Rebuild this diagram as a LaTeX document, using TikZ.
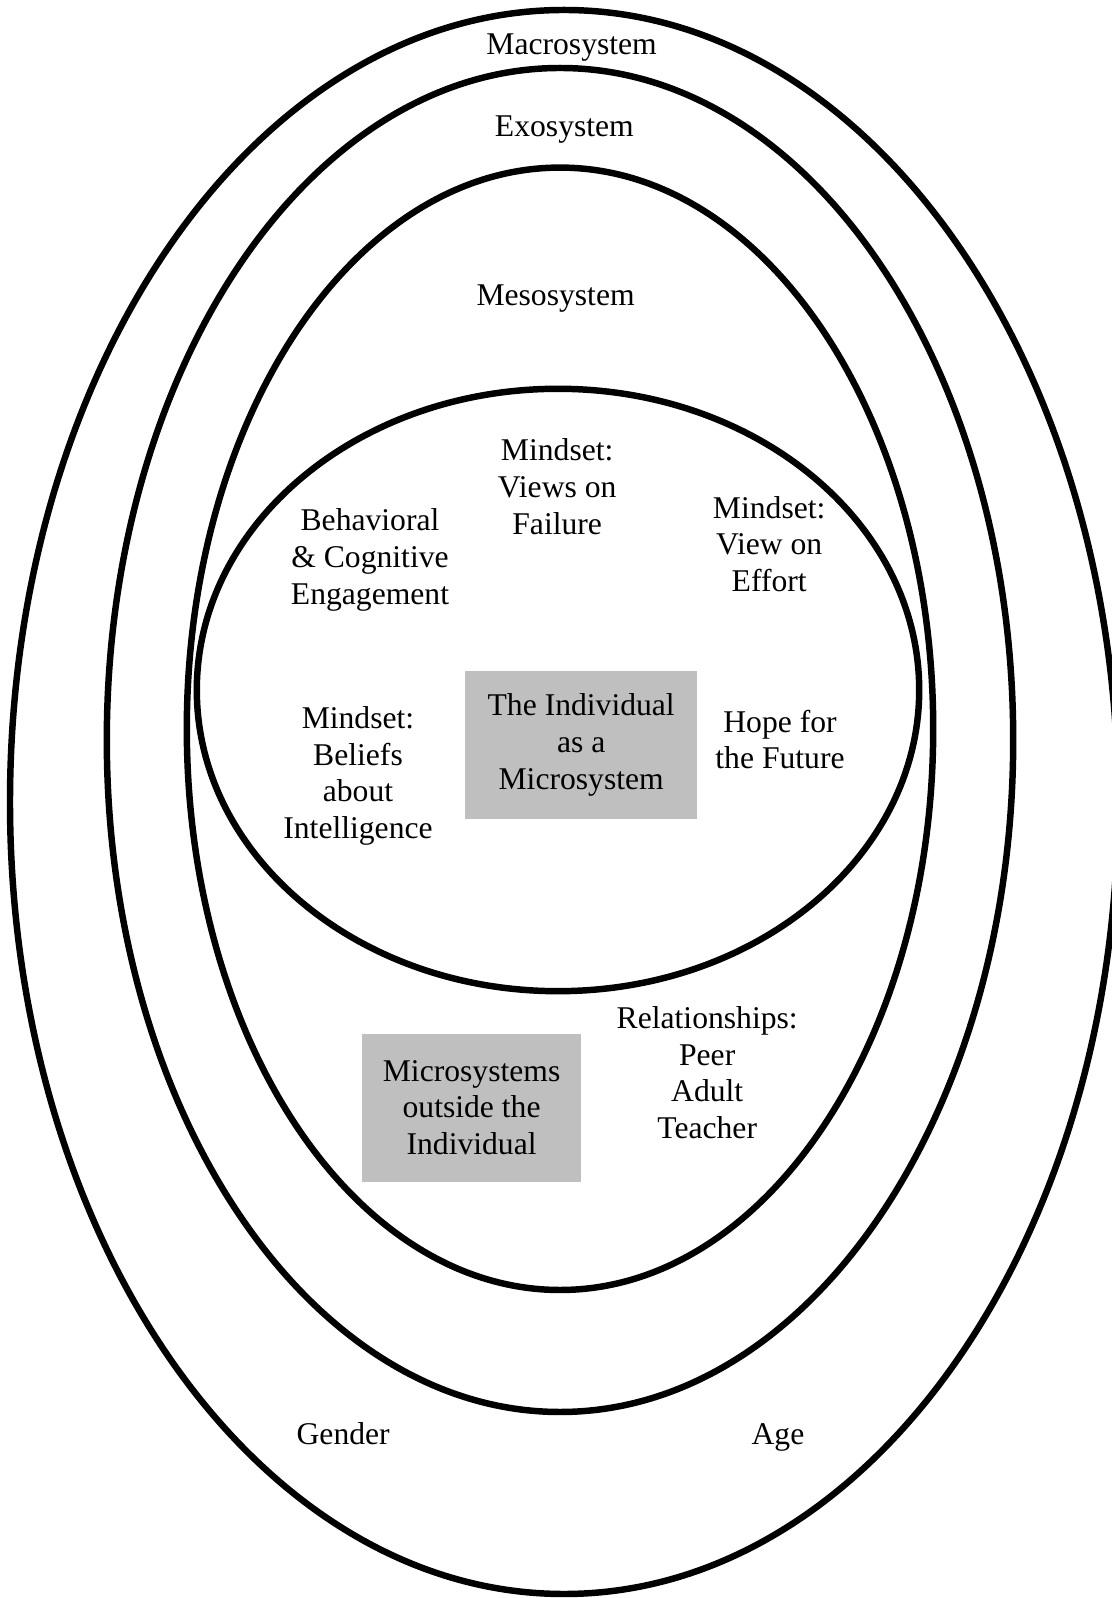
\documentclass[tikz,border=0pt]{standalone}
\usepackage{fontspec}
\setmainfont{Liberation Serif}
\usepackage{tikz}

\begin{document}
\begin{tikzpicture}[
        ring/.style={draw, line width=4.6pt},
        txt/.style={align=center, inner sep=0pt, font=\fontsize{22.5}{26.1}\selectfont},
        graybox/.style={txt, fill=gray!50, minimum height=3.7cm}
    ]
        \useasboundingbox (0,0) rectangle (27.8,39.95);

        % the four systems
        \draw[ring] (14.1,19.9) ellipse (13.85 and 19.8);
        \draw[ring] (14.0,21.45) ellipse (11.33 and 16.8);
        \draw[ring] (14.0,21.73) ellipse (9.33 and 14.03);
        \draw[ring] (13.95,22.7) ellipse (9.03 and 7.53);

        \node[txt, anchor=base] (macro) at (14.29,38.58) {Macrosystem};
        \node[txt, anchor=base] (exo) at (14.11,36.53) {Exosystem};
        \node[txt, anchor=base] (meso) at (13.89,32.3) {Mesosystem};

        % inside the individual
        \node[txt] (failure) at (13.93,27.78) {Mindset:\\Views on\\Failure};
        \node[txt] (engage) at (9.25,25.95) {Behavioral\\\& Cognitive\\Engagement};
        \node[txt] (effort) at (19.23,26.35) {Mindset:\\View on\\Effort};
        \node[txt] (beliefs) at (8.95,20.55) {Mindset:\\Beliefs\\about\\Intelligence};
        \node[graybox, minimum width=5.8cm] (indiv) at (14.53,21.33) {The Individual\\as a\\Microsystem};
        \node[txt] (hope) at (19.5,21.46) {Hope for\\the Future};

        % outside the individual
        \node[graybox, minimum width=5.48cm] (outside) at (11.79,12.26) {Microsystems\\outside the\\Individual};
        \node[txt] (relations) at (17.68,13.13) {Relationships:\\Peer\\Adult\\Teacher};

        \node[txt, anchor=base] (gender) at (8.58,3.83) {Gender};
        \node[txt, anchor=base] (age) at (19.45,3.83) {Age};
    \end{tikzpicture}
\end{document}
